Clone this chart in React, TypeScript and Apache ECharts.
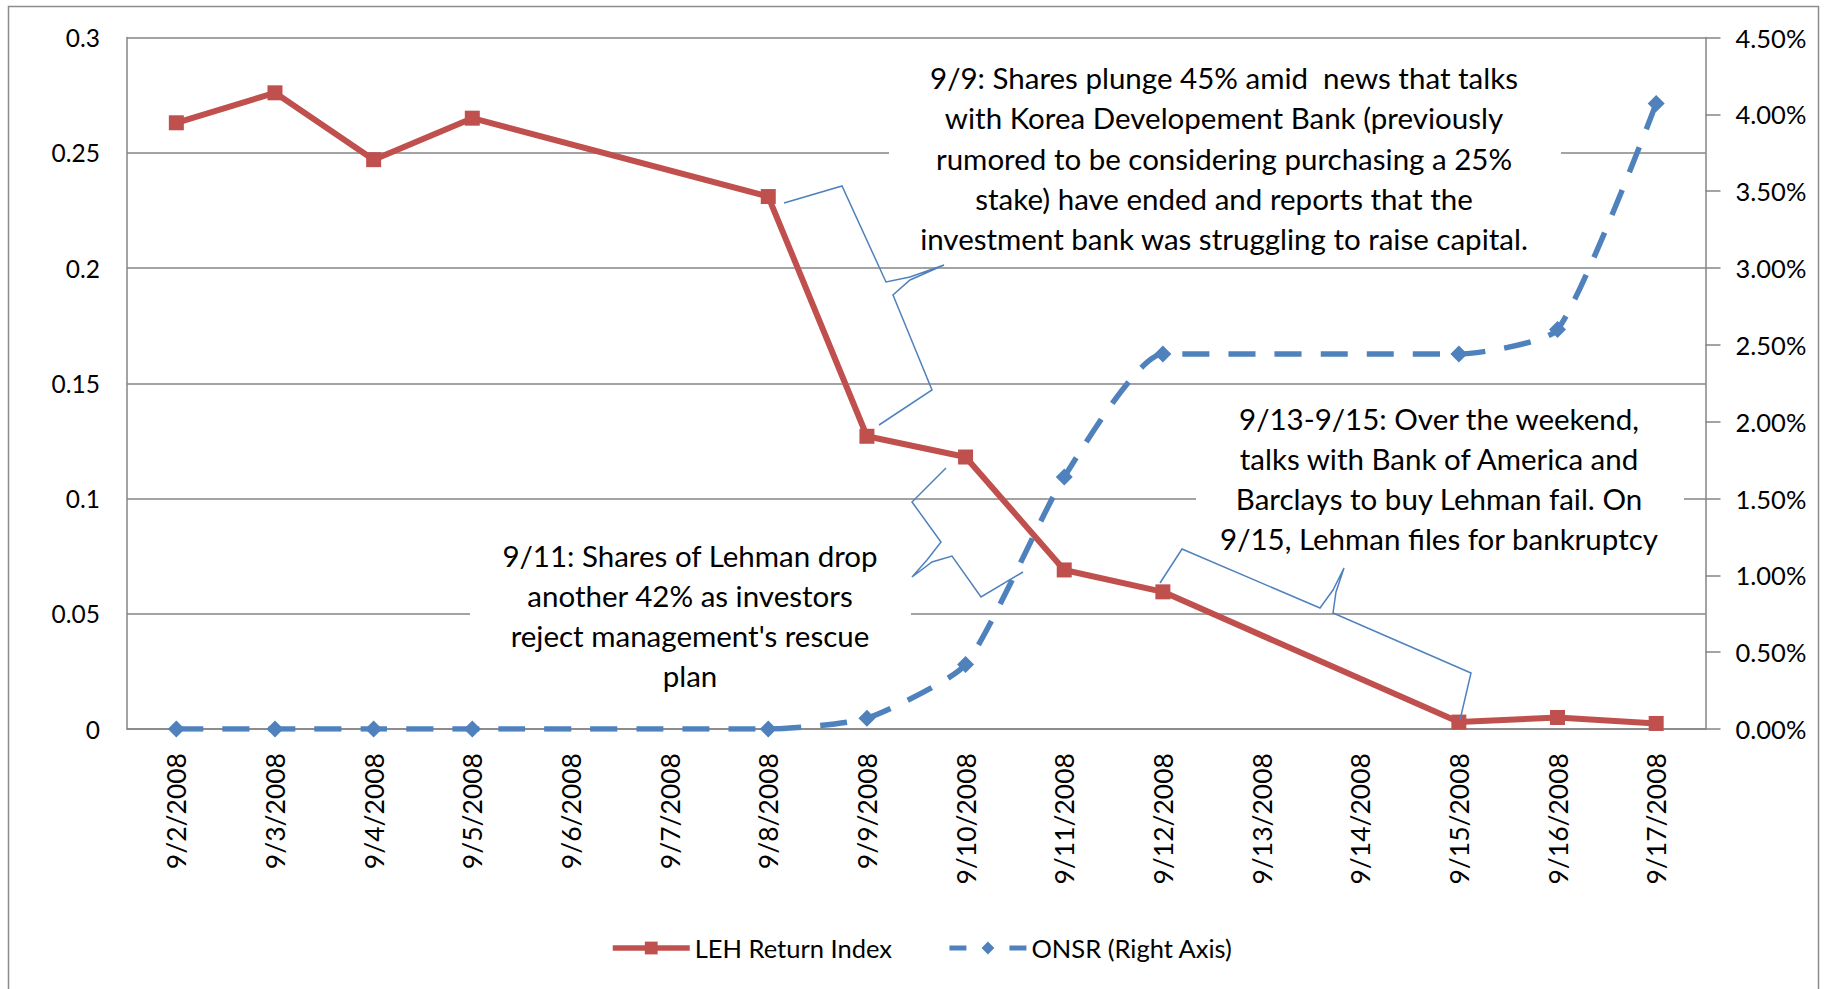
import React, { useEffect, useRef } from 'react';
import * as echarts from 'echarts';

const DATES = [
  '9/2/2008', '9/3/2008', '9/4/2008', '9/5/2008', '9/6/2008', '9/7/2008', '9/8/2008', '9/9/2008',
  '9/10/2008', '9/11/2008', '9/12/2008', '9/13/2008', '9/14/2008', '9/15/2008', '9/16/2008', '9/17/2008',
];
const LEH_RETURN_INDEX = [0.263, 0.276, 0.247, 0.265, null, null, 0.231, 0.127, 0.118, 0.069, 0.0595, null, null, 0.003, 0.005, 0.0024];
const ONSR_PCT = [0, 0, 0, 0, null, null, 0, 0.07, 0.42, 1.64, 2.44, null, null, 2.44, 2.6, 4.07];

const LEFT_TICK_LABELS = ['0', '0.05', '0.1', '0.15', '0.2', '0.25', '0.3'];
const RIGHT_TICK_LABELS = ['0.00%', '0.50%', '1.00%', '1.50%', '2.00%', '2.50%', '3.00%', '3.50%', '4.00%', '4.50%'];

const NOTE_9_9 = [
  '9/9: Shares plunge 45% amid  news that talks',
  'with Korea Developement Bank (previously',
  'rumored to be considering purchasing a 25%',
  'stake) have ended and reports that the',
  'investment bank was struggling to raise capital.',
];
const NOTE_9_11 = [
  '9/11: Shares of Lehman drop',
  'another 42% as investors',
  "reject management's rescue",
  'plan',
];
const NOTE_9_13 = [
  '9/13-9/15: Over the weekend,',
  'talks with Bank of America and',
  'Barclays to buy Lehman fail. On',
  '9/15, Lehman files for bankruptcy',
];

const RED = '#C0504D';
const BLUE = '#4F81BD';
const GRID_GREY = '#858585';
const FONT = 'Lato, "Noto Sans", sans-serif';

export default function App() {
  const ref = useRef<HTMLDivElement>(null);

  useEffect(() => {
    if (!ref.current) return;
    const chart = echarts.init(ref.current, undefined, { renderer: 'svg' });

    const note = (lines: string[], x: number, y: number) => ({
      type: 'text',
      z: 10,
      style: {
        text: lines.join('\n'),
        x,
        y,
        textAlign: 'center',
        textVerticalAlign: 'middle',
        font: `29.5px ${FONT}`,
        lineHeight: 40.3,
        fill: '#000',
      },
    });
    const box = (x: number, y: number, w: number, h: number) => ({
      type: 'rect',
      z: 1,
      shape: { x, y, width: w, height: h },
      style: { fill: '#ffffff', stroke: null },
    });
    const brace = (pts: number[][]) => ({
      type: 'polyline',
      z: 10,
      shape: { points: pts, smooth: 0 },
      style: { stroke: BLUE, lineWidth: 1.5, fill: null },
    });

    chart.setOption({
      animation: false,
      backgroundColor: '#ffffff',
      textStyle: { fontFamily: FONT },
      grid: { left: 127, right: 121.5, top: 37.5, bottom: 260, containLabel: false },
      xAxis: {
        type: 'category',
        data: DATES,
        boundaryGap: true,
        axisLine: { show: true, lineStyle: { color: GRID_GREY, width: 1.5 } },
        axisTick: { show: false },
        axisLabel: { rotate: 90, margin: 24, fontSize: 26.5, color: '#000', fontFamily: FONT, interval: 0 },
      },
      yAxis: [
        {
          type: 'value',
          min: 0,
          max: 0.3,
          interval: 0.05,
          axisLine: { show: true, lineStyle: { color: GRID_GREY, width: 1.5 } },
          axisTick: { show: false },
          splitLine: { show: true, lineStyle: { color: GRID_GREY, width: 1.5 } },
          axisLabel: {
            margin: 27,
            fontSize: 24.5,
            color: '#000',
            fontFamily: FONT,
            formatter: (v: number) => LEFT_TICK_LABELS[Math.round(v / 0.05)] ?? '',
          },
        },
        {
          type: 'value',
          min: 0,
          max: 4.5,
          interval: 0.5,
          position: 'right',
          axisLine: { show: true, lineStyle: { color: GRID_GREY, width: 1.5 } },
          axisTick: { show: true, length: 15, inside: false, lineStyle: { color: GRID_GREY, width: 1.5 } },
          splitLine: { show: false },
          axisLabel: {
            margin: 30,
            fontSize: 25.5,
            color: '#000',
            fontFamily: FONT,
            formatter: (v: number) => RIGHT_TICK_LABELS[Math.round(v / 0.5)] ?? '',
          },
        },
      ],
      legend: {
        left: 605,
        top: 930,
        itemWidth: 77,
        itemHeight: 16,
        itemGap: 55,
        textStyle: { fontSize: 25.5, color: '#000', fontFamily: FONT },
        data: [
          { name: 'LEH Return Index', lineStyle: { width: 5.5 } },
          { name: 'ONSR (Right Axis)', lineStyle: { type: [17, 43], width: 5 } },
        ],
      },
      series: [
        {
          name: 'LEH Return Index',
          type: 'line',
          data: LEH_RETURN_INDEX,
          connectNulls: true,
          symbol: 'rect',
          symbolSize: 15,
          z: 3,
          itemStyle: { color: RED },
          lineStyle: { color: RED, width: 6 },
        },
        {
          name: 'ONSR (Right Axis)',
          type: 'line',
          yAxisIndex: 1,
          data: ONSR_PCT,
          connectNulls: true,
          smooth: 0.18,
          symbol: 'diamond',
          symbolSize: 17,
          z: 3,
          itemStyle: { color: BLUE },
          lineStyle: { color: BLUE, width: 5.5, type: [27, 19] },
        },
      ],
      graphic: [
        {
          type: 'rect',
          z: 0,
          shape: { x: 8.5, y: 6.5, width: 1810, height: 1000 },
          style: { fill: null, stroke: '#8c8c8c', lineWidth: 1.5 },
        },
        box(889, 50, 672, 214),
        box(470, 525, 441, 170),
        box(1196, 395, 488, 173),
        note(NOTE_9_9, 1224, 158),
        note(NOTE_9_11, 690, 615.5),
        note(NOTE_9_13, 1439, 478.5),
        brace([[784, 203], [842, 186], [886, 282], [910, 277], [944, 265], [910, 280], [893, 295], [932, 390], [879, 425]]),
        brace([[946, 468], [912, 502], [941, 542], [927, 560], [912, 577], [932, 562], [952, 556], [981, 597], [1023, 572]]),
        brace([[1160, 583], [1182, 549], [1320, 608], [1333, 590], [1344, 568], [1336, 592], [1333, 613], [1471, 673], [1460, 720]]),
      ],
    });

    return () => chart.dispose();
  }, []);

  return (
    <div
      ref={ref}
      style={{ position: 'absolute', left: 0, top: 0, width: 1827, height: 989, background: '#fff' }}
    />
  );
}
